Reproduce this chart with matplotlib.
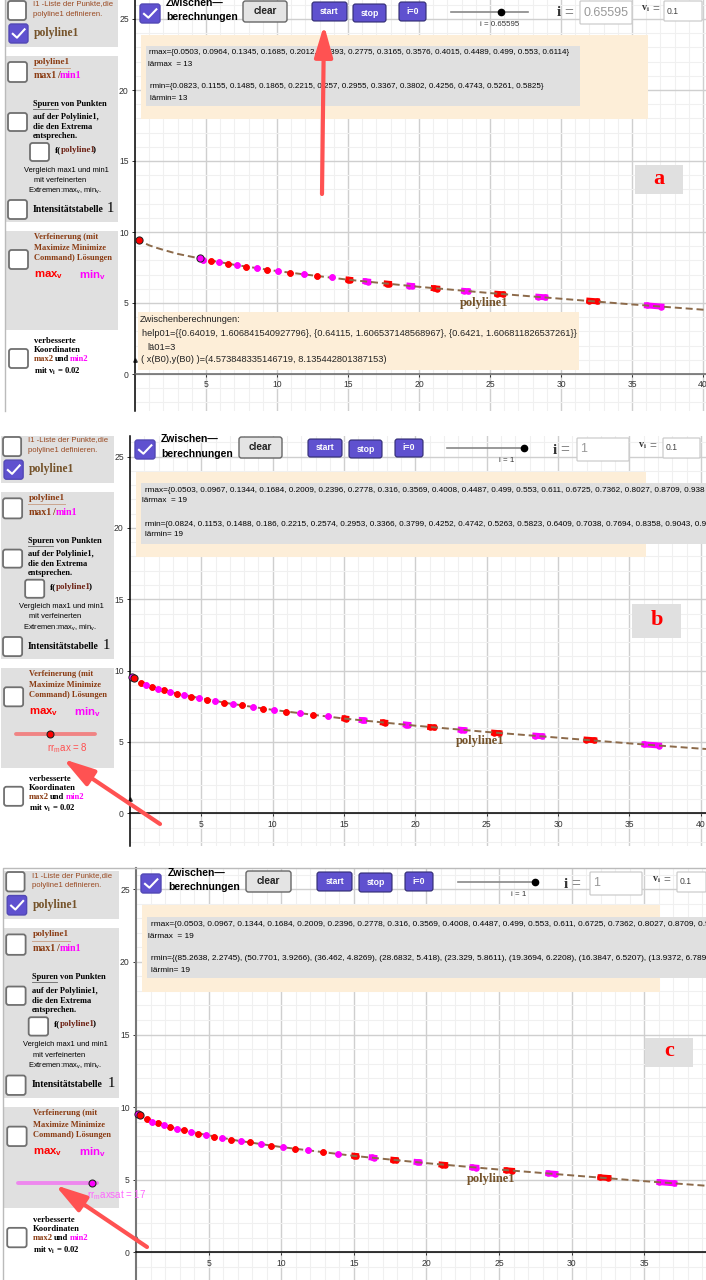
import numpy as np
import matplotlib
matplotlib.use('Agg')
import matplotlib.pyplot as plt
from matplotlib.patches import FancyBboxPatch, Rectangle

plt.rcParams['font.family'] = ['Liberation Sans', 'DejaVu Sans']
plt.rcParams['mathtext.default'] = 'regular'

W, H = 706, 1280

# Punkte auf der polyline1
max_x = [0.26, 0.77, 1.54, 2.36, 3.29, 4.29, 5.37, 6.56, 7.84, 9.31, 10.95, 12.85, 15.09, 17.8, 21.16, 25.7, 32.26]
max_y = [9.46, 9.16, 8.88, 8.62, 8.39, 8.18, 7.97, 7.76, 7.57, 7.34, 7.13, 6.89, 6.64, 6.36, 6.03, 5.63, 5.14]
max_trace = [0, 0, 0, 0, 0, 0, 0, 0, 0, 0, 0, 0, 0.06, 0.08, 0.12, 0.19, 0.27]

min_x = [0.13, 1.13, 1.95, 2.83, 3.78, 4.81, 5.94, 7.2, 8.59, 10.1, 11.88, 13.9, 16.32, 19.41, 23.3, 28.64, 36.56]
min_y = [9.53, 9.0, 8.74, 8.5, 8.29, 8.06, 7.87, 7.66, 7.45, 7.24, 7.03, 6.8, 6.52, 6.21, 5.84, 5.42, 4.79]
min_trace = [0, 0, 0, 0, 0, 0, 0, 0, 0, 0, 0, 0, 0.09, 0.09, 0.13, 0.24, 0.51]

curve_x = [0.1, 0.5, 1, 1.5, 2, 3, 4.6, 7, 10, 15, 20, 25, 30, 35, 40, 41]
curve_y = [9.52, 9.3, 9.06, 8.89, 8.74, 8.46, 8.13, 7.69, 7.25, 6.64, 6.14, 5.7, 5.3, 4.9, 4.53, 4.47]

b0_x, b0_y = 4.574, 8.135

x_ticks = [5, 10, 15, 20, 25, 30, 35, 40]
y_ticks = [0, 5, 10, 15, 20, 25]

rmax_a = 'rmax={0.0503, 0.0964, 0.1345, 0.1685, 0.2012, 0.2393, 0.2775, 0.3165, 0.3576, 0.4015, 0.4489, 0.499, 0.553, 0.6114}'
rmin_a = 'rmin={0.0823, 0.1155, 0.1485, 0.1865, 0.2215, 0.257, 0.2955, 0.3367, 0.3802, 0.4256, 0.4743, 0.5261, 0.5825}'
rmax_b = 'rmax={0.0503, 0.0967, 0.1344, 0.1684, 0.2009, 0.2396, 0.2778, 0.316, 0.3569, 0.4008, 0.4487, 0.499, 0.553, 0.611, 0.6725, 0.7362, 0.8027, 0.8709, 0.938'
rmin_b = 'rmin={0.0824, 0.1153, 0.1488, 0.186, 0.2215, 0.2574, 0.2953, 0.3366, 0.3799, 0.4252, 0.4742, 0.5263, 0.5823, 0.6409, 0.7038, 0.7694, 0.8358, 0.9043, 0.9'
rmin_c = 'rmin={(85.2638, 2.2745), (50.7701, 3.9266), (36.462, 4.8269), (28.6832, 5.418), (23.329, 5.8611), (19.3694, 6.2208), (16.3847, 6.5207), (13.9372, 6.7892'

RED = '#ff0000'
MAG = '#ff00ff'
BROWN = '#8a3b12'
DARK = '#75532a'
PURPLE = '#5f51cf'
PEACH = '#fdeed8'
GRAY = '#e0e0e0'
ARROW = '#ff5252'
SERIF = 'Liberation Serif'

fig = plt.figure(figsize=(W / 100, H / 100), dpi=100)


def draw_marks(ax, xs, ys, trace, color):
    slope = np.gradient(ys, xs)
    for x, y, s, g in zip(xs, ys, trace, slope):
        # kleine Punkte decken die Kurve ab, die langen Spuren liegen darunter
        z = 4 if s > 0.05 else 5.5
        ax.plot([x - s, x + s], [y - g * s, y + g * s], '-o', color=color, lw=4.3, ms=4.7,
                mew=0, zorder=z, clip_on=False)


def panel(x0, y0_axis, top, bottom, scale, axis_color, max_idx, min_idx):
    ax = fig.add_axes([x0 / W, 1 - bottom / H, (W - x0) / W, (bottom - top) / H])
    ax.set_xticks(x_ticks)
    ax.set_yticks(y_ticks)
    ax.set_xticks(range(0, 42), minor=True)
    ax.set_yticks(range(-3, 28), minor=True)
    ax.set_xlim(0, (W - x0) / scale)
    ax.set_ylim((y0_axis - bottom) / scale, (y0_axis - top) / scale)
    ax.grid(which='major', color='#cfcfcf', lw=1.0)
    ax.grid(which='minor', color='#f0f0f0', lw=0.8)
    ax.set_axisbelow(True)
    ax.tick_params(which='minor', length=0)
    ax.tick_params(which='major', labelsize=6.2, length=2.5, width=0.7, pad=2, labelcolor='#333333', color='#333333')
    for name in ['top', 'right']:
        ax.spines[name].set_visible(False)
    ax.spines['bottom'].set_position(('data', 0))
    ax.spines['bottom'].set_color(axis_color)
    ax.spines['bottom'].set_linewidth(1.1)
    ax.spines['left'].set_linewidth(1.1)
    ax.plot(0, 1, marker='^', ms=2.5, color='#333333', transform=ax.get_yaxis_transform(), clip_on=False)
    draw_marks(ax, [max_x[i] for i in max_idx], [max_y[i] for i in max_idx], [max_trace[i] for i in max_idx], RED)
    draw_marks(ax, [min_x[i] for i in min_idx], [min_y[i] for i in min_idx], [min_trace[i] for i in min_idx], MAG)
    ax.plot(curve_x, curve_y, color='#8c6a4a', lw=1.4, dashes=(3.6, 2.0), zorder=5)
    return ax


all_idx = list(range(17))
ax_a = panel(135, 374, 0, 411, 14.2, '#666666', [0] + all_idx[6:], all_idx[5:])
ax_a.plot(max_x[0], max_y[0], 'o', color=RED, mec='#222222', ms=5.2, mew=0.7, zorder=6, clip_on=False)
ax_a.plot(b0_x, b0_y, 'o', color=MAG, mec='#222222', ms=5.2, mew=0.7, zorder=6)

ax_b = panel(130, 813.3, 436, 846, 14.27, '#000000', all_idx, all_idx)
ax_b.plot(min_x[0], min_y[0], 'o', color=MAG, mec='#222222', ms=5.2, mew=0.7, zorder=6, clip_on=False)
ax_b.plot(max_x[0], max_y[0], 'o', color=RED, mec='#222222', ms=5.2, mew=0.7, zorder=6, clip_on=False)

ax_c = panel(136, 1252.3, 868, 1280, 14.52, '#000000', all_idx, all_idx)
ax_c.plot(min_x[0], min_y[0], 'o', color=MAG, mec='#222222', ms=5.2, mew=0.7, zorder=6, clip_on=False)
ax_c.plot(max_x[0], max_y[0], 'o', color=RED, mec='#222222', ms=5.2, mew=0.7, zorder=6, clip_on=False)
ax_c.spines['left'].set_color('#777777')
ax_c.spines['left'].set_linewidth(1.5)

# alles andere in Pixelkoordinaten
ov = fig.add_axes([0, 0, 1, 1], zorder=10)
ov.set_xlim(0, W)
ov.set_ylim(H, 0)
ov.axis('off')
ov.patch.set_alpha(0)


def box(x0, y0, x1, y1, color, zorder=1):
    ov.add_patch(Rectangle((x0, y0), x1 - x0, y1 - y0, fc=color, ec='none', zorder=zorder))


def rbox(x0, y0, x1, y1, fc, ec, lw=1.0, pad=2.5, zorder=3):
    ov.add_patch(FancyBboxPatch((x0 + pad, y0 + pad), x1 - x0 - 2 * pad, y1 - y0 - 2 * pad,
                                boxstyle='round,pad=%s' % pad, fc=fc, ec=ec, lw=lw, zorder=zorder))


def checkbox(x0, y0, x1, y1, checked=False):
    if checked:
        rbox(x0, y0, x1, y1, PURPLE, '#5248b5')
        w, h = x1 - x0, y1 - y0
        ov.plot([x0 + .2 * w, x0 + .42 * w, x0 + .82 * w], [y0 + .52 * h, y0 + .72 * h, y0 + .28 * h],
                color='white', lw=1.5, zorder=4)
    else:
        rbox(x0, y0, x1, y1, 'white', '#707070', lw=1.3)


def txt(x, y, s, size=6.3, color='black', ha='left', weight='normal', family=None, zorder=5):
    kw = {}
    if family:
        kw['family'] = family
    ov.text(x, y, s, fontsize=size, color=color, ha=ha, va='center', weight=weight, zorder=zorder, **kw)


def sidebar(ox, oy, s):
    def X(v):
        return ox + s * v

    def Y(v):
        return oy + s * v

    for y0, y1 in [(0, 47), (56, 222), (231, 330)]:
        box(X(6), Y(y0), X(118), Y(y1), GRAY)
    for bx0, by0, bx1, by1, on in [(8, 1, 26, 20, False), (9, 24, 28, 43, True), (8, 62, 27, 82, False),
                                   (8, 113, 27, 131, False), (30, 143, 49, 161, False), (8, 200, 27, 219, False),
                                   (9, 250, 28, 269, False), (9, 349, 28, 368, False)]:
        checkbox(X(bx0), Y(by0), X(bx1), Y(by1), on)
    txt(X(33), Y(4), 'I1 -Liste der Punkte,die', 5.6, '#9a4a22')
    txt(X(33), Y(14), 'polyline1 definieren.', 5.6, '#9a4a22')
    txt(X(34), Y(33), 'polyline1', 8.4, DARK, weight='bold', family=SERIF)
    txt(X(34), Y(62), 'polyline1', 6.7, BROWN, weight='bold', family=SERIF)
    ov.plot([X(33), X(70)], [Y(68), Y(68)], color='#caa58e', lw=0.7, zorder=5)
    txt(X(34), Y(76), 'max1', 7.2, BROWN, weight='bold', family=SERIF)
    txt(X(57), Y(76), '/', 7.2, BROWN, weight='bold', family=SERIF)
    txt(X(60), Y(76), 'min1', 7.2, MAG, weight='bold', family=SERIF)
    for y, line in [(104, 'Spuren von Punkten'), (117, 'auf der Polylinie1,'), (127, 'die den Extrema'), (136, 'entsprechen.')]:
        txt(X(33), Y(y), line, 6.0, weight='bold', family=SERIF)
    ov.plot([X(33), X(58)], [Y(109), Y(109)], color='#666666', lw=0.6, zorder=5)
    txt(X(55), Y(150), 'f(', 6.5, weight='bold', family=SERIF)
    txt(X(60.5), Y(150), 'polyline1', 6.5, '#6b1e10', weight='bold', family=SERIF)
    txt(X(93), Y(150), ')', 6.5, weight='bold', family=SERIF)
    txt(X(66), Y(170), 'Vergleich max1 und min1', 5.4, ha='center')
    txt(X(60), Y(180), 'mit verfeinerten', 5.4, ha='center')
    txt(X(65), Y(191), 'Extremen:max$_v$, min$_v$.', 5.4, ha='center')
    txt(X(33), Y(209), 'Intensitätstabelle', 6.9, weight='bold', family=SERIF)
    txt(X(107), Y(208), '1', 10.5, family=SERIF)
    for y, line in [(237, 'Verfeinerung (mit'), (248, 'Maximize Minimize'), (258, 'Command) Lösungen')]:
        txt(X(34), Y(y), line, 6.0, BROWN, weight='bold', family=SERIF)
    txt(X(34), Y(275), 'max$_v$', 8.2, RED, weight='bold')
    txt(X(79), Y(275), 'min$_v$', 8.2, MAG, weight='bold')
    txt(X(34), Y(341), 'verbesserte', 6.2, weight='bold', family=SERIF)
    txt(X(34), Y(350), 'Koordinaten', 6.2, weight='bold', family=SERIF)
    txt(X(34), Y(359), 'max2', 6.2, BROWN, weight='bold', family=SERIF)
    txt(X(55), Y(359), 'und', 6.2, weight='bold', family=SERIF)
    txt(X(70), Y(359), 'min2', 6.2, MAG, weight='bold', family=SERIF)
    txt(X(34), Y(371), 'mit v$_i$ = 0.02', 6.2, weight='bold', family=SERIF)


sidebar(0, 0, 1.0)
sidebar(-5, 436, 1.005)
sidebar(-2, 871, 1.0225)
ov.plot([5, 5], [0, 411], color='#bbbbbb', lw=1.0, zorder=2)
ov.plot([3, 3, W], [1280, 868, 868], color='#bbbbbb', lw=1.0, zorder=2)


def toolbar(cx, ty, zx, clear, start, stop, zero, slider, knob, label, slabel_x, slabel_y, i_x, input_box, i_val, i_size, vlabel_x, v_box):
    checkbox(cx, ty[0], cx + 20, ty[0] + 19, True)
    txt(zx, ty[1], 'Zwischen—', 7.5, weight='bold')
    txt(zx, ty[2], 'berechnungen', 7.5, weight='bold')
    rbox(*clear, '#e4e4e4', '#666666', lw=1.0)
    txt((clear[0] + clear[2]) / 2, (clear[1] + clear[3]) / 2, 'clear', 7.2, ha='center', weight='bold', color='#222222')
    for b, s in [(start, 'start'), (stop, 'stop'), (zero, 'i=0')]:
        rbox(*b, PURPLE, '#2f2a70', lw=0.8)
        txt((b[0] + b[2]) / 2, (b[1] + b[3]) / 2, s, 6.2, 'white', ha='center', weight='bold')
    ov.plot(slider[:2], [slider[2], slider[2]], color='#888888', lw=1.2, zorder=3)
    ov.plot(knob, slider[2], 'o', color='black', ms=4.5, zorder=4)
    txt(slabel_x, slabel_y, label, 5.7, '#333333', ha='center')
    txt(i_x, input_box[1] + 12, 'i', 11, weight='bold', family=SERIF, color='#333333')
    txt(i_x + 7, input_box[1] + 12, '=', 11, color='#888888')
    rbox(*input_box, 'white', '#cccccc', lw=0.9, pad=1)
    txt(input_box[0] + 3, (input_box[1] + input_box[3]) / 2, i_val, i_size, '#999999')
    txt(vlabel_x, v_box[1] + 8, 'v$_i$', 7.2, weight='bold', family=SERIF, color='#333333')
    txt(vlabel_x + 11, v_box[1] + 8, '=', 8.5, color='#777777')
    rbox(*v_box, 'white', '#cccccc', lw=0.9, pad=1)
    txt(v_box[0] + 3, (v_box[1] + v_box[3]) / 2, '0.1', 6.2, '#444444')


toolbar(140, (4, 3, 17), 166, (243, 1, 287, 22), (312, 2, 347, 21), (353, 4, 386, 22), (399, 2, 426, 21),
        (451, 528, 12), 501, 'i = 0.65595', 500, 24, 557, (580, 1, 632, 24), '0.65595', 9, 641, (664, 1, 702, 21))
toolbar(135, (440, 439, 454), 161, (239, 437, 282, 458), (308, 439, 342, 457), (349, 440, 382, 458), (395, 439, 423, 457),
        (447, 524, 448), 524, 'i = 1', 507, 461, 553, (577, 438, 629, 461), '1', 9, 638, (663, 438, 700, 458))
toolbar(141, (874, 873, 887), 168, (246, 871, 291, 892), (317, 872, 352, 891), (359, 873, 392, 892), (405, 872, 433, 891),
        (458, 535, 882), 535, 'i = 1', 519, 895, 564, (590, 872, 642, 895), '1', 9, 652, (677, 872, 706, 892))

# Zwischenberechnungen
box(141, 35, 648, 119, PEACH)
box(146, 46, 580, 106, GRAY)
txt(149, 53, rmax_a, 5.75)
txt(148, 64, 'lärmax  = 13', 5.75)
txt(150, 87, rmin_a, 5.75)
txt(150, 98, 'lärmin= 13', 5.75)

box(138, 312, 579, 370, PEACH, zorder=6)
z_lines = [(140, 320, 'Zwischenberechnungen:'),
           (142, 333, 'help01={{0.64019, 1.606841540927796}, {0.64115, 1.606537148568967}, {0.6421, 1.606811826537261}}'),
           (147, 347, 'lä01=3'),
           (141, 360, '( x(B0),y(B0) )=(4.573848335146719, 8.135442801387153)')]
for x, y, s in z_lines:
    txt(x, y, s, 6.7, '#222222', zorder=7)

box(135.5, 472, 646, 557, PEACH)
box(141, 483, W, 544, GRAY)
txt(145, 490, rmax_b, 5.83)
txt(142, 501, 'lärmax  = 19', 5.83)
txt(145, 524, rmin_b, 5.83)
txt(145, 535, 'lärmin= 19', 5.83)

box(142, 905, 660, 992, PEACH)
box(147, 917, W, 978, GRAY)
txt(151, 924, rmax_b, 5.95)
txt(148, 936, 'lärmax  = 19', 5.95)
txt(151, 959, rmin_c, 5.95)
txt(151, 970, 'lärmin= 19', 5.95)

txt(460, 303, 'polyline1', 9, DARK, weight='bold', family=SERIF)
txt(456, 741, 'polyline1', 9, DARK, weight='bold', family=SERIF)
txt(467, 1179, 'polyline1', 9, DARK, weight='bold', family=SERIF)

# Panel-Buchstaben
for x0, y0, x1, y1, s in [(635, 165, 683, 194, 'a'), (632, 604, 681, 638, 'b'), (645, 1038, 693, 1067, 'c')]:
    box(x0, y0, x1, y1, GRAY)
    txt((x0 + x1) / 2, (y0 + y1) / 2 - 1, s, 16, RED, ha='center', weight='bold', family=SERIF)

# Schieberegler
ov.plot([16, 95], [734, 734], color='#f08484', lw=2.8, solid_capstyle='round', zorder=4)
ov.plot(50, 734, 'o', color=RED, mec='#222222', ms=5, mew=0.8, zorder=5)
txt(47, 748, 'rr$_m$ax = 8', 7, '#ff4f4f')
ov.plot([18, 97], [1183, 1183], color='#ee88ee', lw=2.8, solid_capstyle='round', zorder=4)
ov.plot(92, 1183, 'o', color=MAG, mec='#222222', ms=5, mew=0.8, zorder=5)
txt(87, 1195, 'rr$_m$axsat = 17', 7, '#ff66ff', zorder=6)

# rote Pfeile
for tail, tip in [((322, 194), (324, 25)), ((160, 824), (63, 759)), ((147, 1247), (55, 1185))]:
    ov.annotate('', xy=tip, xytext=tail, zorder=8,
                arrowprops=dict(arrowstyle='-|>,head_width=0.55,head_length=1.9', color=ARROW, lw=3,
                                mutation_scale=10, shrinkA=0, shrinkB=0))

fig.savefig('out.png', dpi=100)
